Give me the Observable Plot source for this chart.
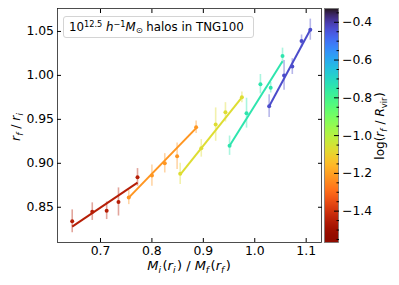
<!DOCTYPE html>
<html><head><meta charset="utf-8">
<script src="https://cdn.jsdelivr.net/npm/d3@7"></script>
<script src="https://cdn.jsdelivr.net/npm/@observablehq/plot@0.6"></script>
<style>
body{margin:0;background:#fff;}
#wrap{position:relative;width:399px;height:285px;font-family:"DejaVu Sans",sans-serif;overflow:hidden;}
#wrap svg{position:absolute;top:0;}
#note{position:absolute;left:63px;top:16px;width:184px;height:20px;border:1px solid #d4d4d4;border-radius:3px;background:rgba(255,255,255,0.85);font-size:11.8px;line-height:20px;padding-left:5px;box-sizing:content-box;white-space:nowrap;color:#000;}
#note sup{font-size:8.2px;vertical-align:4.5px;line-height:0;}
#note sub{font-size:8.2px;vertical-align:-2px;line-height:0;}
</style></head>
<body><div id="wrap"></div>
<script>
// colour value of each series: log(r_f / R_vir)
const seriesLogR = [-1.45, -1.22, -1.07, -0.74, -0.43];
// M_i(r_i) / M_f(r_f)
const massRatio = [
  [0.645, 0.684, 0.712, 0.735, 0.772],
  [0.755, 0.800, 0.825, 0.849, 0.886],
  [0.855, 0.896, 0.924, 0.943, 0.975],
  [0.951, 0.984, 1.011, 1.031, 1.054],
  [1.028, 1.057, 1.073, 1.091, 1.108]
];
// r_f / r_i
const radiusRatio = [
  [0.834, 0.845, 0.846, 0.856, 0.884],
  [0.861, 0.886, 0.900, 0.908, 0.941],
  [0.888, 0.917, 0.944, 0.958, 0.975],
  [0.920, 0.957, 0.990, 0.986, 1.022],
  [0.965, 1.000, 1.010, 1.039, 1.052]
];
const radiusErr = [
  [0.013, 0.010, 0.010, 0.016, 0.010],
  [0.008, 0.012, 0.011, 0.015, 0.007],
  [0.012, 0.010, 0.019, 0.011, 0.006],
  [0.011, 0.017, 0.011, 0.006, 0.009],
  [0.013, 0.017, 0.009, 0.007, 0.012]
];
// linear fits, endpoints
const fitX0 = [0.645, 0.755, 0.855, 0.951, 1.028];
const fitY0 = [0.828, 0.861, 0.887, 0.920, 0.965];
const fitX1 = [0.772, 0.886, 0.975, 1.054, 1.108];
const fitY1 = [0.878, 0.940, 0.975, 1.016, 1.052];

const xTicks = [0.7, 0.8, 0.9, 1.0, 1.1];
const yTicks = [0.85, 0.90, 0.95, 1.00, 1.05];
const cbTicks = [-1.4, -1.2, -1.0, -0.8, -0.6, -0.4];
const cbMinor = [-1.55, -1.5, -1.45, -1.35, -1.3, -1.25, -1.15, -1.1, -1.05, -0.95, -0.9, -0.85, -0.75, -0.7, -0.65, -0.55, -0.5, -0.45, -0.35];
const cbDomain = [-1.566, -0.327];

const points = [];
massRatio.forEach((row, i) => row.forEach((m, j) => points.push({m, r: radiusRatio[i][j], e: radiusErr[i][j], c: seriesLogR[i]})));
const fits = seriesLogR.map((c, i) => ({x0: fitX0[i], y0: fitY0[i], x1: fitX1[i], y1: fitY1[i], c}));

const colorOpts = {type: "linear", scheme: "turbo", reverse: true, domain: cbDomain};
const font = {fontFamily: "DejaVu Sans", fontSize: "12.4px", color: "#000", background: "transparent", overflow: "visible"};

const main = Plot.plot({
  width: 399, height: 285,
  marginLeft: 57, marginRight: 78, marginTop: 8, marginBottom: 43,
  style: font,
  x: {domain: [0.6164, 1.1298]},
  y: {domain: [0.8099, 1.0761]},
  color: colorOpts,
  marks: [
    Plot.ruleX(points, {x: "m", y1: d => d.r - d.e, y2: d => d.r + d.e, stroke: "c", strokeOpacity: 0.4, strokeWidth: 1.6}),
    Plot.link(fits, {x1: "x0", y1: "y0", x2: "x1", y2: "y1", stroke: "c", strokeWidth: 2}),
    Plot.dot(points, {x: "m", y: "r", fill: "c", r: 2}),
    Plot.frame({stroke: "#222", strokeWidth: 0.8}),
    Plot.axisX({ticks: xTicks, tickFormat: ".1f", tickSize: -4, tickPadding: 7.5, label: null}),
    Plot.axisX({anchor: "top", ticks: xTicks, tickSize: -4, tickFormat: () => "", label: null}),
    Plot.axisY({ticks: yTicks, tickFormat: ".2f", tickSize: -4, tickPadding: 7.5, label: null}),
    Plot.axisY({anchor: "right", ticks: yTicks, tickSize: -4, tickFormat: () => "", label: null})
  ]
});

const cb = Plot.plot({
  width: 75, height: 285,
  marginLeft: 0, marginRight: 61, marginTop: 8, marginBottom: 43,
  style: font,
  x: {domain: [0, 1], axis: null},
  y: {domain: cbDomain},
  color: colorOpts,
  marks: [
    Plot.raster({x1: 0, x2: 1, y1: cbDomain[0], y2: cbDomain[1], width: 1, height: 234, fill: (x, y) => y}),
    Plot.frame({stroke: "#777", strokeWidth: 0.8}),
    Plot.axisY({anchor: "right", ticks: cbTicks, tickFormat: d3.format(".1f"), tickSize: -5, tickPadding: 8.5, label: null}),
    Plot.axisY({anchor: "right", ticks: cbMinor, tickSize: -2.5, tickFormat: () => "", label: null})
  ]
});

const wrap = document.getElementById("wrap");
main.style.left = "0px";
cb.style.left = "324px";
wrap.appendChild(main);
wrap.appendChild(cb);

function mathText(sel, parts, size, subGap) {
  const t = sel.append("text").attr("text-anchor", "middle").attr("font-family", "DejaVu Sans").attr("font-size", size).attr("fill", "#000");
  let cur = 0, prevSub = false;
  for (const [s, style] of parts) {
    const sub = style.includes("sub");
    const target = sub ? 0.22 * size : 0;
    const sp = t.append("tspan").text(s);
    if (target !== cur) { sp.attr("dy", target - cur); cur = target; }
    if (prevSub && !sub && subGap) sp.attr("dx", subGap);
    if (style.includes("i")) sp.attr("font-style", "italic");
    if (sub) sp.attr("font-size", size * 0.7);
    prevSub = sub;
  }
  return t;
}
const ms = d3.select(main);
mathText(ms.append("g").attr("transform", "translate(20,127) rotate(-90)"),
  [["r","i"],["f","i sub"],[" / ",""],["r","i"],["i","i sub"]], 12.4, 0);
mathText(ms.append("g").attr("transform", "translate(189,270)"),
  [["M","i"],["i","i sub"],["(",""],["r","i"],["i","i sub"],[") / ",""],["M","i"],["f","i sub"],["(",""],["r","i"],["f","i sub"],[")",""]], 13, 1.5);
const cs = d3.select(cb);
mathText(cs.append("g").attr("transform", "translate(60,126) rotate(-90)"),
  [["log(",""],["r","i"],["f","i sub"],[" / ",""],["R","i"],["vir","sub"],[")",""]], 12, 0.5);

const note = document.createElement("div");
note.id = "note";
note.innerHTML = '10<sup>12.5</sup> <i>h</i><sup>−1</sup><i>M</i><sub>⊙</sub> halos in TNG100';
wrap.appendChild(note);
</script>
</body></html>
